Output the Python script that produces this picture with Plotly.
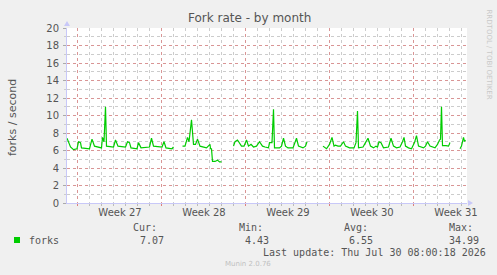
import plotly.graph_objects as go

# ---- data (hours since start of graph window, forks/second); None = no data
hours = [0, 3, 7, 13, 20, 23, 27, 29, 45, 50, 55, 69, 71, 74, 77, 79, 93, 97, 102, 117,
         121, 125, 128, 140, 143, 148, 165, 169, 173, 190, 194, 198, 210, 213,
         220,
         231, 236, 241, 244, 249, 253, 257, 261, 266, 275, 279, 286, 287, 289, 291,
         296, 301, 305, 309,
         320,
         333, 336, 341, 344, 349, 354, 359, 363, 368, 373, 379, 385, 391, 396, 403,
         405, 410, 413, 415, 425, 429, 433, 437, 442, 452, 459, 463, 472, 477, 480,
         495,
         512, 519, 525, 530, 534, 537, 542, 547, 553, 557, 565, 574, 578, 581, 583,
         592, 597, 602, 607, 613, 618, 621, 624, 628, 633, 643, 648, 653, 659, 666,
         671, 674, 677, 683, 689, 695, 699, 703, 713, 717, 721, 726, 736, 741, 745,
         747, 749, 751, 758, 763, 766,
         775,
         786, 789, 793, 795, 797]
forks = [7.4, 6.9, 6.4, 6.1, 6.2, 7.0, 6.9, 6.3, 6.2, 7.3, 6.5, 6.3, 7.5, 7.0, 11.0, 6.5, 6.4, 7.2, 6.5, 6.4,
         7.0, 6.9, 6.3, 6.2, 6.9, 6.3, 6.4, 7.4, 6.5, 6.4, 7.0, 6.3, 6.2, 6.4,
         None,
         6.5, 6.5, 7.5, 7.0, 9.5, 6.7, 6.7, 7.3, 6.5, 6.4, 6.3, 6.7, 6.2, 6.2, 4.75,
         4.75, 4.9, 4.7, 4.7,
         None,
         6.5, 7.0, 7.2, 6.9, 6.5, 6.5, 7.2, 6.5, 6.7, 6.4, 6.5, 7.0, 6.5, 6.4, 6.3,
         6.9, 6.9, 10.7, 6.3, 6.3, 6.5, 7.4, 6.5, 6.3, 6.3, 7.4, 6.5, 6.3, 6.5, 7.0,
         None,
         6.5, 6.2, 6.7, 7.5, 6.5, 6.6, 6.5, 6.5, 7.0, 6.5, 6.3, 6.3, 6.9, 10.5, 6.3,
         6.4, 6.9, 7.4, 6.5, 6.3, 6.5, 6.4, 7.0, 6.9, 6.3, 6.4, 7.4, 6.5, 6.3, 6.4,
         7.0, 7.5, 6.5, 6.3, 6.2, 6.9, 7.7, 6.5, 6.3, 6.5, 7.0, 6.5, 6.3, 6.7, 7.2,
         7.3, 11.0, 6.55, 6.55, 6.5, 6.9,
         None,
         6.2, 6.5, 7.5, 7.05, 7.2]

week_start_hours = [20, 188, 356, 524, 692]
week_label_hours = [106, 274, 442, 610, 778]
week_labels = ["Week 27", "Week 28", "Week 29", "Week 30", "Week 31"]
y_ticks = list(range(0, 21, 2))

series_name = "forks"
stat_labels = ["Cur:", "Min:", "Avg:", "Max:"]
stat_values = ["7.07", "4.43", "6.55", "34.99"]

# ---- geometry helpers (pixel -> paper)
W, H = 497, 275
L, R, T, B = 67, 30, 28, 72
PW, PH = W - L - R, H - T - B


def px(x):
    return (x - L) / PW


def py(y):
    return (H - B - y) / PH


GREEN = "#00cc00"
TXT = "#555555"
AXIS = "#c8c8f8"
MGRID = "rgba(225,120,120,0.65)"
GRID = "rgba(170,170,170,0.6)"

fig = go.Figure()
fig.add_trace(go.Scatter(x=hours, y=forks, mode="lines", name=series_name,
                         line=dict(color=GREEN, width=1.2), connectgaps=False,
                         showlegend=False, hoverinfo="skip"))
# dummy trace to activate label axis
fig.add_trace(go.Scatter(x=[0], y=[None], xaxis="x2", yaxis="y", showlegend=False,
                         hoverinfo="skip"))

fig.update_layout(
    width=W, height=H,
    margin=dict(l=L, r=R, t=T, b=B),
    paper_bgcolor="#f0f0f0",
    plot_bgcolor="#ffffff",
    font=dict(family="DejaVu Sans", color=TXT, size=10),
    xaxis=dict(range=[0, 800], tickmode="array", tickvals=week_start_hours,
               showticklabels=False, showgrid=True, gridcolor=MGRID, griddash="dot",
               gridwidth=1, ticks="outside", ticklen=2, tickcolor="rgba(225,120,120,0.9)",
               showline=True, linecolor=AXIS, linewidth=1, zeroline=False,
               minor=dict(tick0=20, dtick=24, showgrid=True, gridcolor=GRID,
                          griddash="dot", gridwidth=1, ticks="outside", ticklen=2,
                          tickcolor="#bbbbbb")),
    xaxis2=dict(range=[0, 800], overlaying="x", matches="x", anchor="y", side="bottom",
                tickmode="array", tickvals=week_label_hours, ticktext=week_labels,
                showgrid=False, ticks="", zeroline=False, showline=False,
                tickfont=dict(size=10, color=TXT), ticklabelstandoff=2),
    yaxis=dict(range=[0, 20], tickmode="array", tickvals=y_ticks,
               showgrid=True, gridcolor=MGRID, griddash="dot", gridwidth=1,
               ticks="outside", ticklen=3, tickcolor="#aaaaaa",
               showline=True, linecolor=AXIS, linewidth=1, zeroline=False,
               tickfont=dict(size=10, color=TXT), ticklabelstandoff=2,
               minor=dict(dtick=1, showgrid=True, gridcolor=GRID, griddash="dot",
                          gridwidth=1, ticks="outside", ticklen=2, tickcolor="#cccccc")),
)

ann = []
ann.append(dict(text="Fork rate - by month", x=px(249), y=py(18), xref="paper", yref="paper",
                showarrow=False, xanchor="center", yanchor="middle",
                font=dict(size=12, color=TXT)))
ann.append(dict(text="forks / second", x=px(12), y=py(117), xref="paper", yref="paper",
                showarrow=False, textangle=-90, xanchor="center", yanchor="middle",
                font=dict(size=11, color=TXT)))
ann.append(dict(text="RRDTOOL / TOBI OETIKER", x=px(488.5), y=py(54), xref="paper",
                yref="paper", showarrow=False, textangle=90, xanchor="center",
                yanchor="middle", font=dict(size=7, color="#c8c8c8")))

MONO = "DejaVu Sans Mono"
ann.append(dict(text=series_name, x=px(26.5), y=py(240), xref="paper", yref="paper",
                showarrow=False, xanchor="left", yanchor="middle",
                font=dict(family=MONO, size=10, color=TXT)))
label_x = [131, 236.5, 341.5, 446.5]
value_x = [137.5, 242.5, 346.5, 446.5]
for lx, vx, lab, val in zip(label_x, value_x, stat_labels, stat_values):
    ann.append(dict(text=lab, x=px(lx), y=py(227), xref="paper", yref="paper",
                    showarrow=False, xanchor="left", yanchor="middle",
                    font=dict(family=MONO, size=10, color=TXT)))
    ann.append(dict(text=val, x=px(vx), y=py(240), xref="paper", yref="paper",
                    showarrow=False, xanchor="left", yanchor="middle",
                    font=dict(family=MONO, size=10, color=TXT)))
ann.append(dict(text="Last update: Thu Jul 30 08:00:18 2026", x=px(260.5), y=py(252),
                xref="paper", yref="paper", showarrow=False, xanchor="left",
                yanchor="middle", font=dict(family=MONO, size=10, color=TXT)))
ann.append(dict(text="Munin 2.0.76", x=px(248), y=py(263.5), xref="paper", yref="paper",
                showarrow=False, xanchor="center", yanchor="middle",
                font=dict(size=7, color="#c0c0c0")))
fig.update_layout(annotations=ann)

shapes = [
    # legend swatch
    dict(type="rect", xref="paper", yref="paper", x0=px(14), x1=px(20), y0=py(243),
         y1=py(237), fillcolor=GREEN, line=dict(width=0)),
    # axis arrow heads
    dict(type="path", xref="paper", yref="paper",
         path=f"M {px(64)} {py(26)} L {px(70)} {py(26)} L {px(67)} {py(21)} Z",
         fillcolor=AXIS, line=dict(width=0)),
    dict(type="path", xref="paper", yref="paper",
         path=f"M {px(468)} {py(200)} L {px(468)} {py(206)} L {px(473)} {py(203)} Z",
         fillcolor=AXIS, line=dict(width=0)),
]
fig.update_layout(shapes=shapes)

fig.write_html("out.html")
